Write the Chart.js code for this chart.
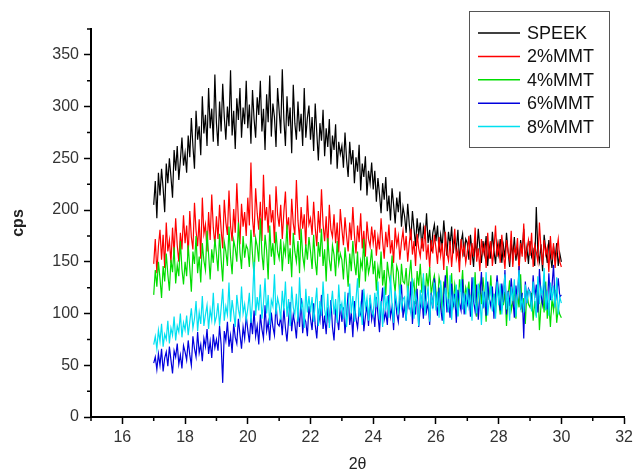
<!DOCTYPE html>
<html>
<head>
<meta charset="utf-8">
<script src="https://cdn.jsdelivr.net/npm/chart.js@4/dist/chart.umd.min.js"></script>
<style>
    body { margin: 0; background: #fff; }
    #wrap { width: 637px; height: 474px; }
</style>
</head>
<body>
<div id="wrap"><canvas id="xrdChart" width="637" height="474"></canvas></div>
<script>
// Scan grid: 2-theta from 17 to 30 deg, 0.05 deg step
const scanStart = 17;
const scanStep = 0.05;

// Intensities (cps), one row per degree
const speek = [
    205, 228, 192, 236, 214, 240, 221, 198, 245, 226, 250, 232, 212, 258, 238, 262, 229, 248, 270, 243,
    255, 236, 272, 251, 289, 262, 240, 296, 268, 281, 253, 310, 274, 292, 262, 318, 279, 298, 266, 331,
    284, 262, 305, 276, 322, 290, 268, 300, 281, 335, 272, 296, 259, 308, 287, 318, 270, 299, 283, 325,
    279, 302, 264, 316, 288, 270, 309, 292, 325, 276, 298, 258, 312, 285, 330, 271, 303, 290, 261, 318,
    296, 274, 336, 288, 262, 310, 281, 299, 255, 321, 284, 268, 305, 276, 293, 262, 318, 270, 289, 301,
    268, 290, 257, 303, 275, 248, 284, 267, 297, 252, 279, 261, 288, 244, 272, 258, 283, 240, 266, 254,
    262, 241, 275, 249, 232, 266, 244, 258, 226, 251, 237, 263, 219, 245, 232, 252, 214, 238, 226, 246,
    220, 238, 208, 231, 215, 197, 226, 210, 232, 199, 214, 190, 221, 205, 187, 212, 198, 218, 184, 203,
    194, 178, 206, 186, 171, 199, 182, 165, 192, 176, 188, 163, 183, 172, 197, 168, 181, 160, 178, 186,
    170, 185, 159, 176, 164, 190, 171, 156, 179, 166, 184, 158, 173, 162, 181, 150, 169, 177, 155, 172,
    168, 152, 176, 160, 145, 171, 157, 182, 163, 149, 170, 158, 175, 146, 165, 153, 179, 161, 148, 168,
    157, 172, 149, 166, 154, 178, 160, 145, 169, 155, 174, 151, 163, 147, 171, 158, 182, 152, 164, 148,
    170, 155, 161, 146, 203, 159, 150, 167, 141, 176, 162, 149, 171, 156, 144, 165, 153, 168, 146, 158,
    150
];

const mmt2 = [
    148, 172, 139, 165, 181, 152, 176, 144, 188, 160, 171, 149, 183, 158, 192, 166, 150, 178, 162, 195,
    168, 185, 156, 199, 174, 162, 207, 180, 165, 191, 153, 212, 177, 186, 160, 198, 171, 215, 183, 166,
    194, 172, 205, 181, 163, 210, 188, 176, 219, 185, 170, 201, 178, 226, 190, 167, 206, 184, 198, 175,
    212, 185, 246, 192, 174, 221, 197, 181, 208, 170, 234, 190, 203, 178, 215, 188, 200, 168, 223, 196,
    184, 205, 172, 198, 218, 181, 193, 166, 211, 187, 176, 229, 190, 171, 203, 182, 196, 165, 214, 186,
    192, 176, 208, 183, 165, 199, 178, 220, 186, 170, 194, 162, 205, 181, 174, 196, 168, 188, 159, 201,
    182, 166, 193, 175, 160, 188, 171, 203, 176, 158, 185, 169, 197, 163, 180, 155, 189, 172, 165, 184,
    168, 181, 156, 174, 162, 192, 170, 153, 179, 164, 186, 158, 171, 149, 183, 166, 175, 152, 169, 180,
    161, 175, 150, 168, 182, 157, 170, 146, 177, 163, 155, 173, 160, 185, 152, 167, 144, 171, 158, 176,
    163, 148, 174, 156, 168, 142, 179, 159, 151, 170, 145, 165, 182, 153, 161, 140, 172, 157, 166, 149,
    160, 175, 147, 168, 155, 183, 150, 163, 141, 172, 158, 166, 144, 178, 153, 170, 146, 162, 185, 155,
    167, 149, 176, 158, 143, 171, 160, 152, 180, 145, 164, 157, 173, 141, 168, 155, 187, 150, 162, 171,
    156, 178, 145, 166, 159, 150, 188, 162, 147, 171, 157, 164, 140, 175, 152, 168, 144, 161, 172, 150,
    145
];

const mmt4 = [
    118, 142, 126, 150, 134, 115, 146, 131, 158, 138, 122, 152, 140, 164, 129, 147, 136, 170, 143, 128,
    150, 136, 166, 144, 121, 160, 148, 175, 139, 155, 130, 168, 151, 142, 180, 157, 133, 162, 149, 172,
    158, 141, 177, 152, 131, 169, 160, 146, 184, 155, 138, 171, 163, 150, 188, 159, 143, 175, 154, 166,
    162, 145, 181, 157, 136, 173, 165, 150, 192, 158, 142, 176, 161, 133, 185, 155, 168, 147, 179, 160,
    153, 172, 141, 166, 157, 186, 148, 163, 135, 178, 160, 150, 170, 139, 182, 156, 145, 167, 152, 174,
    160, 143, 176, 151, 137, 169, 155, 182, 146, 162, 131, 173, 152, 141, 166, 157, 136, 170, 148, 158,
    152, 133, 164, 147, 126, 158, 141, 170, 149, 137, 160, 125, 151, 144, 172, 131, 155, 139, 147, 162,
    138, 151, 122, 145, 134, 160, 127, 142, 118, 150, 137, 129, 156, 133, 121, 146, 140, 113, 148, 131,
    129, 144, 117, 136, 152, 124, 131, 109, 141, 127, 148, 120, 135, 112, 139, 126, 145, 118, 130, 137,
    122, 108, 135, 127, 101, 131, 119, 146, 114, 124, 139, 106, 128, 117, 98, 133, 121, 142, 110, 125,
    118, 131, 104, 123, 112, 140, 97, 120, 128, 109, 135, 116, 92, 126, 113, 137, 106, 119, 100, 129,
    114, 99, 127, 108, 121, 88, 117, 132, 103, 111, 125, 95, 119, 106, 138, 101, 115, 90, 122, 109,
    106, 120, 93, 112, 98, 126, 84, 108, 117, 101, 131, 95, 110, 87, 114, 103, 123, 91, 105, 99,
    96
];

const mmt6 = [
    52, 58, 46, 61, 50, 66, 44, 57, 63, 49, 68, 55, 42, 64, 58, 71, 51, 60, 47, 69,
    63, 55, 74, 60, 50, 78, 66, 58, 82, 62, 70, 54, 76, 68, 85, 61, 73, 57, 80, 67,
    75, 64, 88, 70, 33, 83, 74, 92, 68, 79, 62, 90, 77, 71, 95, 80, 66, 87, 76, 98,
    84, 72, 96, 80, 103, 78, 88, 70, 99, 85, 76, 108, 83, 92, 74, 101, 87, 79, 110, 90,
    88, 97, 79, 105, 86, 73, 94, 111, 83, 99, 90, 76, 102, 87, 115, 81, 96, 92, 78, 107,
    95, 84, 110, 89, 76, 101, 93, 118, 85, 98, 80, 106, 91, 113, 87, 74, 103, 96, 84, 109,
    92, 106, 81, 98, 120, 89, 101, 77, 112, 95, 86, 104, 99, 123, 83, 97, 108, 88, 115, 94,
    103, 87, 116, 99, 82, 109, 125, 94, 101, 89, 118, 97, 106, 84, 121, 100, 92, 112, 128, 96,
    108, 93, 119, 104, 131, 90, 112, 99, 124, 87, 106, 115, 95, 127, 102, 110, 89, 120, 105, 134,
    112, 98, 125, 106, 93, 118, 137, 101, 114, 96, 129, 108, 119, 91, 123, 110, 103, 133, 99, 116,
    109, 124, 97, 135, 112, 102, 128, 94, 117, 140, 105, 121, 98, 131, 114, 107, 126, 95, 119, 137,
    118, 103, 129, 111, 142, 99, 122, 107, 134, 115, 96, 127, 113, 146, 104, 120, 76, 131, 110, 124,
    121, 106, 137, 115, 128, 101, 143, 118, 109, 132, 122, 104, 139, 113, 126, 147, 110, 119, 134, 116,
    118
];

const mmt8 = [
    70, 78, 66, 84, 73, 90, 68, 80, 75, 93, 71, 86, 79, 97, 74, 88, 82, 100, 77, 91,
    84, 98, 79, 92, 105, 86, 95, 112, 83, 101, 90, 117, 88, 99, 108, 85, 104, 94, 120, 91,
    97, 110, 88, 105, 124, 93, 107, 99, 130, 92, 113, 101, 87, 118, 104, 96, 126, 100, 109, 94,
    105, 120, 91, 112, 150, 98, 116, 103, 128, 95, 110, 134, 100, 118, 89, 113, 107, 138, 99, 115,
    108, 94, 122, 103, 131, 97, 114, 88, 126, 106, 99, 119, 92, 135, 104, 111, 86, 124, 101, 117,
    101, 116, 92, 109, 125, 88, 112, 98, 131, 104, 94, 119, 86, 107, 122, 99, 114, 91, 128, 103,
    110, 95, 121, 87, 106, 129, 100, 117, 92, 113, 134, 97, 108, 89, 124, 105, 115, 93, 118, 102,
    98, 120, 106, 131, 94, 112, 87, 126, 103, 117, 96, 137, 108, 91, 122, 110, 99, 128, 105, 114,
    116, 93, 127, 108, 100, 134, 95, 119, 111, 88, 123, 105, 139, 98, 114, 126, 92, 117, 107, 130,
    103, 121, 96, 132, 110, 90, 125, 115, 101, 137, 94, 118, 108, 128, 97, 112, 133, 104, 120, 99,
    125, 107, 118, 93, 135, 111, 100, 129, 116, 89, 122, 106, 140, 98, 113, 127, 102, 119, 95, 131,
    108, 129, 99, 117, 138, 104, 121, 93, 126, 112, 133, 97, 118, 142, 106, 115, 101, 128, 110, 123,
    120, 102, 131, 114, 96, 136, 109, 125, 117, 144, 103, 122, 98, 130, 112, 127, 106, 135, 99, 116,
    110
];

const seriesNames = ['SPEEK', '2%MMT', '4%MMT', '6%MMT', '8%MMT'];
const seriesColors = ['#000000', '#ff0000', '#00dd00', '#0000dd', '#00e0f0'];
const seriesData = [speek, mmt2, mmt4, mmt6, mmt8];

// Axis ranges and tick steps
const xMin = 15, xMax = 32, xMajor = 2, xMinor = 1;
const yMin = 0, yMax = 375, yMajor = 50, yMinor = 25;

const fontFamily = '"Liberation Sans", Arial, sans-serif';

function toPoints(values) {
    return values.map((v, i) => ({ x: +(scanStart + i * scanStep).toFixed(2), y: v }));
}

// Short minor ticks and the boxed legend inside the plot
const xrdExtras = {
    id: 'xrdExtras',
    afterDraw(chart) {
        const ctx = chart.ctx;
        const xs = chart.scales.x;
        const ys = chart.scales.y;
        ctx.save();
        ctx.strokeStyle = '#000';
        ctx.lineWidth = 1.5;
        ctx.beginPath();
        for (let v = xMin; v <= xMax; v += xMinor) {
            if (v % xMajor === 0) continue;
            const px = xs.getPixelForValue(v);
            ctx.moveTo(px, ys.bottom);
            ctx.lineTo(px, ys.bottom + 4);
        }
        for (let v = yMin; v <= yMax; v += yMinor) {
            if (v % yMajor === 0) continue;
            const py = ys.getPixelForValue(v);
            ctx.moveTo(xs.left, py);
            ctx.lineTo(xs.left - 4, py);
        }
        ctx.stroke();

        // legend box
        const bx = 469, by = 11, bw = 140, bh = 136;
        ctx.strokeStyle = '#555';
        ctx.lineWidth = 1;
        ctx.strokeRect(bx + 0.5, by + 0.5, bw, bh);
        ctx.font = '18px ' + fontFamily;
        ctx.textBaseline = 'middle';
        ctx.fillStyle = '#111';
        chart.data.datasets.forEach((ds, i) => {
            const ly = 33 + i * 23.4;
            ctx.strokeStyle = ds.borderColor;
            ctx.lineWidth = 1.5;
            ctx.beginPath();
            ctx.moveTo(478, ly);
            ctx.lineTo(520, ly);
            ctx.stroke();
            ctx.fillText(ds.label, 527, ly + 1);
        });
        ctx.restore();
    }
};

document.addEventListener('DOMContentLoaded', function() {
    const ctx = document.getElementById('xrdChart').getContext('2d');

    new Chart(ctx, {
        type: 'line',
        data: {
            datasets: seriesData.map((values, i) => ({
                label: seriesNames[i],
                data: toPoints(values),
                borderColor: seriesColors[i],
                borderWidth: 1.2,
                pointRadius: 0,
                fill: false,
                tension: 0,
                order: seriesData.length - i
            }))
        },
        options: {
            responsive: false,
            animation: false,
            events: [],
            layout: {
                padding: { top: 29, right: 9, bottom: 0, left: 0 }
            },
            plugins: {
                legend: { display: false },
                tooltip: { enabled: false }
            },
            scales: {
                x: {
                    type: 'linear',
                    min: xMin,
                    max: xMax,
                    afterBuildTicks: function(scale) {
                        scale.ticks = scale.ticks.filter(t => t.value % xMajor === 0);
                    },
                    afterFit: function(scale) {
                        scale.height = 57;
                    },
                    border: { display: true, color: '#000', width: 2 },
                    grid: {
                        drawOnChartArea: false,
                        drawTicks: true,
                        tickLength: 7,
                        tickWidth: 1.5,
                        tickColor: '#000'
                    },
                    ticks: {
                        stepSize: xMajor,
                        padding: 4,
                        color: '#333',
                        font: { family: fontFamily, size: 16 }
                    },
                    title: {
                        display: true,
                        text: '2θ',
                        color: '#222',
                        padding: { top: 0, bottom: 0 },
                        font: { family: fontFamily, size: 16 }
                    }
                },
                y: {
                    type: 'linear',
                    min: yMin,
                    max: yMax,
                    afterBuildTicks: function(scale) {
                        scale.ticks = scale.ticks.filter(t => t.value % yMajor === 0);
                    },
                    afterFit: function(scale) {
                        scale.width = 91;
                    },
                    border: { display: true, color: '#000', width: 2 },
                    grid: {
                        drawOnChartArea: false,
                        drawTicks: true,
                        tickLength: 7,
                        tickWidth: 1.5,
                        tickColor: '#000'
                    },
                    ticks: {
                        stepSize: yMajor,
                        padding: 5,
                        color: '#333',
                        font: { family: fontFamily, size: 16 }
                    },
                    title: {
                        display: true,
                        text: 'cps',
                        color: '#222',
                        padding: { top: 9, bottom: 0 },
                        font: { family: fontFamily, size: 16, weight: 'bold' }
                    }
                }
            }
        },
        plugins: [xrdExtras]
    });
});
</script>
</body>
</html>
